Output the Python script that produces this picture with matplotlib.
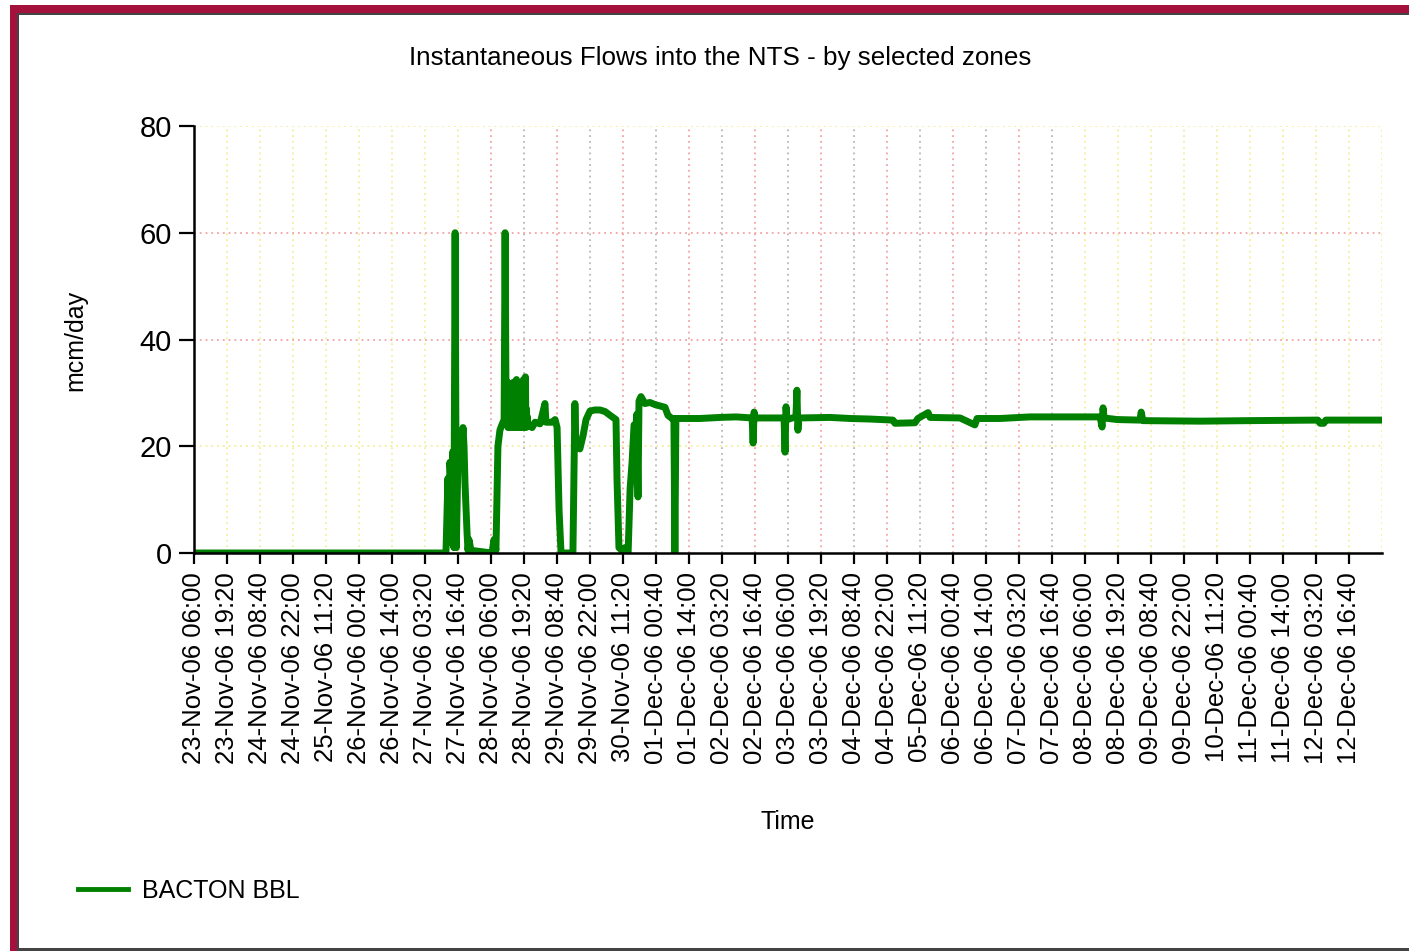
import numpy as np
import pandas as pd
import matplotlib
matplotlib.use("Agg")
import matplotlib.pyplot as plt
from matplotlib.patches import Rectangle

plt.rcParams['font.family'] = ['Liberation Sans', 'DejaVu Sans']

# series start and tick step (13h20m)
start = pd.Timestamp("2006-11-23 06:00")
tick_step_h = 800 / 60
n_ticks = 36
x_end_h = 480

# BACTON BBL flow, hours after start vs mcm/day
hours = [0, 101.8, 102.6, 103.0, 103.4, 104.2, 104.6, 105.0, 105.5, 106.0,
         106.7, 107.5, 107.9, 108.7, 109.1, 109.5, 110.3, 110.7, 111.1, 111.9,
         120.4, 121.2, 122.0, 122.4, 122.8, 123.6, 124.4, 125.3, 125.7, 126.1,
         126.3, 126.5, 126.7, 126.9, 127.1, 127.3, 127.5, 127.7, 127.9, 128.1,
         128.3, 128.5, 128.7, 128.9, 129.1, 129.3, 129.5, 129.7, 129.9, 130.1,
         130.3, 130.5, 130.7, 130.9, 131.1, 131.3, 131.5, 131.7, 131.9, 132.1,
         132.3, 132.5, 132.7, 132.9, 133.1, 133.3, 133.5, 133.7, 133.9, 134.1,
         134.3, 134.5, 134.7, 134.9,
         136.6, 137.8, 139.8, 141.8, 142.2, 144.6, 145.9, 146.7,
         147.5, 148.3, 153.1, 153.9, 154.3, 154.7, 155.9, 157.2, 158.4, 160.0,
         162.0, 164.0, 166.1, 168.1, 170.5, 170.9, 171.7, 172.9, 174.1, 175.4,
         176.2, 177.0, 177.8, 178.6, 178.9, 179.4, 179.8, 180.6, 182.2, 184.2,
         186.3, 188.7, 190.3, 191.5, 193.1, 193.9, 194.3, 194.7, 204.4, 212.5,
         219.0, 225.5, 225.9, 226.3, 226.7, 238.4, 238.8, 239.2, 239.6, 243.2,
         243.6, 244.0, 244.4, 257.0, 265.1, 273.1, 282.4, 283.2, 291.3, 292.5,
         296.6, 297.4, 309.5, 315.5, 316.4, 325.6, 337.8, 366.1, 366.9, 367.3,
         367.7, 373.0, 382.2, 382.7, 383.4, 406.5, 426.7, 454.1, 455.0, 456.5,
         457.3, 480]
flow = [0, 0, 14, 2, 17, 10, 19, 1, 60, 1,
        19, 22, 18, 23.5, 20, 13, 4, 0.5, 2.5, 0.5,
        0, 2.5, 0.5, 10, 20, 23, 24, 25, 60, 26,
        31, 24, 32, 23.5, 30, 24, 31.5, 25, 29, 23.5,
        31, 24.5, 30.5, 24, 32, 23.5, 29.5, 25, 31, 24,
        32.5, 23.5, 30, 24.5, 31.5, 24, 29, 23.5, 30.5, 24.5,
        32, 24, 31, 23.5, 32.5, 24.5, 30, 24, 33, 23.5,
        27, 24.5, 25.5, 24,
        23.5, 24.5, 24.2, 28, 24.5, 24.5, 25, 23.5,
        8, 0, 0, 28, 20, 21, 19.5, 22, 25, 26.6,
        26.8, 26.8, 26.5, 25.8, 25, 14, 1, 0.5, 1, 0,
        12, 17, 24, 24, 26, 10.5, 28.5, 29.3, 28, 28.2,
        27.8, 27.5, 27.3, 25.8, 25.2, 25.2, 0, 25.2, 25.2, 25.4,
        25.5, 25.3, 20.6, 26.4, 25.3, 25.3, 18.9, 27.4, 25, 25.5,
        30.5, 23, 25.3, 25.4, 25.2, 25.1, 24.9, 24.3, 24.4, 25.2,
        26.3, 25.4, 25.3, 24.0, 25.2, 25.2, 25.5, 25.5, 23.6, 27.2,
        25.3, 25.0, 24.9, 26.4, 24.8, 24.7, 24.8, 24.9, 24.3, 24.3,
        24.9, 24.9]

y_ticks = [0, 20, 40, 60, 80]
series_name = "BACTON BBL"
title = "Instantaneous Flows into the NTS - by selected zones"

W, H = 1409, 951
fig = plt.figure(figsize=(W / 100, H / 100), dpi=100)
fig.patch.set_facecolor("white")


def prect(x0, y0, x1, y1, color):
    fig.patches.append(Rectangle((x0 / W, 1 - y1 / H), (x1 - x0) / W, (y1 - y0) / H,
                                 transform=fig.transFigure, color=color, lw=0, zorder=0))


# window frame
prect(10, 5, W, 13, "#a3123c")
prect(10, 5, 17, H, "#a3123c")
prect(17, 13, W, 15, "#444444")
prect(17, 13, 19, H, "#444444")
prect(17, 948, W, H, "#444444")

ax = fig.add_axes([194 / W, 1 - 553 / H, (1382 - 194) / W, (553 - 126) / H])

tick_pos = np.arange(n_ticks) * tick_step_h
tick_labels = [(start + pd.Timedelta(hours=h)).strftime("%d-%b-%y %H:%M") for h in tick_pos]

# dotted grid, colours as in the original rendering
yellow = "#f3ee9a"
pink = "#f2a3a3"
grey = "#b8b8b8"
dots = (0, (1, 2.2))
for i, xp in enumerate(list(tick_pos[1:]) + [x_end_h]):
    idx = i + 1
    if 9 <= idx <= 26:
        c = pink if idx % 2 else grey
    else:
        c = yellow
    ax.axvline(xp, color=c, lw=1.3, ls=dots, zorder=1)
hcols = {20: yellow, 40: pink, 60: pink, 80: yellow}
for yv in y_ticks[1:]:
    ax.axhline(yv, color=hcols[yv], lw=1.3, ls=dots, zorder=1)

line, = ax.plot(hours, flow, color="#008000", lw=5, label=series_name, zorder=3,
                solid_joinstyle="round")

ax.set_xlim(0, x_end_h)
ax.set_ylim(0, 80)
ax.set_xticks(tick_pos)
ax.set_xticklabels(tick_labels, rotation=90, fontsize=18.5)
ax.set_yticks(y_ticks)
ax.tick_params(axis="y", labelsize=21, length=11, width=1.6, pad=5)
ax.tick_params(axis="x", length=8, width=1.6, pad=6)

for s in ["top", "right"]:
    ax.spines[s].set_visible(False)
for s in ["left", "bottom"]:
    ax.spines[s].set_linewidth(1.8)
    ax.spines[s].set_zorder(4)

fig.text(720 / W, 1 - 58 / H, title, ha="center", va="center", fontsize=18.7)
fig.text(788 / W, 1 - 822 / H, "Time", ha="center", va="center", fontsize=18)
fig.text(75 / W, 1 - 340 / H, "mcm/day", ha="center", va="center", rotation=90, fontsize=18)

leg = fig.legend(loc="center left", bbox_to_anchor=(78 / W, 1 - 891 / H), frameon=False,
                 fontsize=18, handlelength=2.0, handletextpad=0.55, borderpad=0,
                 borderaxespad=0)
leg.get_lines()[0].set_linewidth(3.5)

fig.savefig("out.png", dpi=100)
